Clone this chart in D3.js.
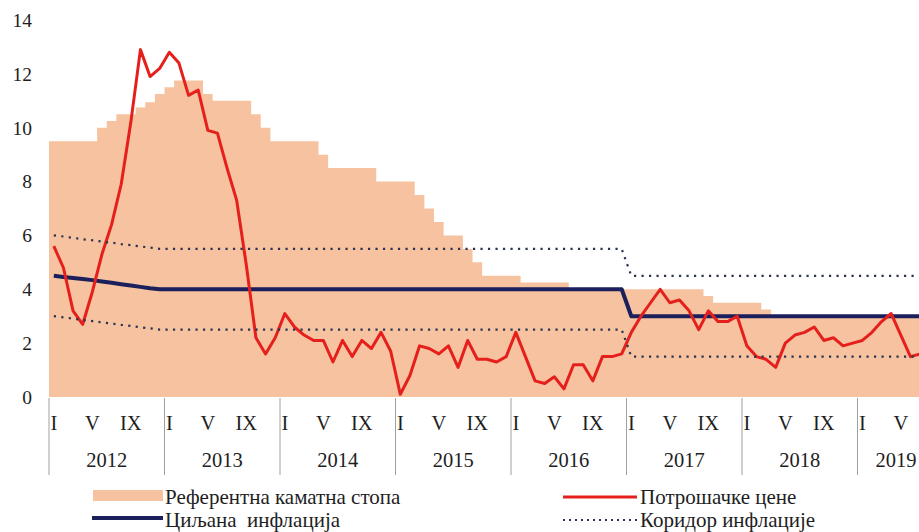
<!DOCTYPE html>
<html>
<head>
    <meta charset="UTF-8">
    <title>Инфлација и референтна каматна стопа</title>
    <script src="https://d3js.org/d3.v7.min.js"></script>
    <style type="text/css">
        body { margin: 0; background: #fff; }
        text { font-family: "Liberation Serif", "DejaVu Serif", serif; fill: #1e1e1e; }
    </style>
</head>
<body>
    <svg id="chart"></svg>

    <script>
        const width = 919;
        const height = 532;

        // months from Jan 2012, one value per month
        const years = ["2012", "2013", "2014", "2015", "2016", "2017", "2018", "2019"];
        const monthsInYear = [12, 12, 12, 12, 12, 12, 12, 8];
        const monthLabels = [{ m: 0, label: "I" }, { m: 4, label: "V" }, { m: 8, label: "IX" }];
        const yTicks = [0, 2, 4, 6, 8, 10, 12, 14];

        const keyRate = [
            9.5, 9.5, 9.5, 9.5, 9.5, 10.0, 10.25, 10.5, 10.5, 10.75, 10.95, 11.25,
            11.5, 11.75, 11.75, 11.75, 11.25, 11.0, 11.0, 11.0, 11.0, 10.5, 10.0, 9.5,
            9.5, 9.5, 9.5, 9.5, 9.0, 8.5, 8.5, 8.5, 8.5, 8.5, 8.0, 8.0,
            8.0, 8.0, 7.5, 7.0, 6.5, 6.0, 6.0, 5.5, 5.0, 4.5, 4.5, 4.5,
            4.5, 4.25, 4.25, 4.25, 4.25, 4.25, 4.0, 4.0, 4.0, 4.0, 4.0, 4.0,
            4.0, 4.0, 4.0, 4.0, 4.0, 4.0, 4.0, 4.0, 3.75, 3.5, 3.5, 3.5,
            3.5, 3.5, 3.25, 3.0, 3.0, 3.0, 3.0, 3.0, 3.0, 3.0, 3.0, 3.0,
            3.0, 3.0, 3.0, 3.0, 3.0, 3.0, 3.0
        ];
        const cpi = [
            5.6, 4.8, 3.2, 2.7, 3.9, 5.3, 6.4, 7.9, 10.2, 12.9, 11.9, 12.2,
            12.8, 12.4, 11.2, 11.4, 9.9, 9.8, 8.5, 7.3, 4.9, 2.2, 1.6, 2.2,
            3.1, 2.6, 2.3, 2.1, 2.1, 1.3, 2.1, 1.5, 2.1, 1.8, 2.4, 1.7,
            0.1, 0.8, 1.9, 1.8, 1.6, 1.9, 1.1, 2.1, 1.4, 1.4, 1.3, 1.5,
            2.4, 1.5, 0.6, 0.5, 0.75, 0.3, 1.2, 1.2, 0.6, 1.5, 1.5, 1.6,
            2.4, 3.0, 3.5, 4.0, 3.5, 3.6, 3.2, 2.5, 3.2, 2.8, 2.8, 3.0,
            1.9, 1.5, 1.4, 1.1, 2.0, 2.3, 2.4, 2.6, 2.1, 2.2, 1.9, 2.0,
            2.1, 2.4, 2.8, 3.1, 2.3, 1.5, 1.6
        ];
        const target = [
            4.5, 4.46, 4.42, 4.38, 4.34, 4.29, 4.24, 4.19, 4.14, 4.09, 4.04, 4.0,
            4.0, 4.0, 4.0, 4.0, 4.0, 4.0, 4.0, 4.0, 4.0, 4.0, 4.0, 4.0,
            4.0, 4.0, 4.0, 4.0, 4.0, 4.0, 4.0, 4.0, 4.0, 4.0, 4.0, 4.0,
            4.0, 4.0, 4.0, 4.0, 4.0, 4.0, 4.0, 4.0, 4.0, 4.0, 4.0, 4.0,
            4.0, 4.0, 4.0, 4.0, 4.0, 4.0, 4.0, 4.0, 4.0, 4.0, 4.0, 4.0,
            3.0, 3.0, 3.0, 3.0, 3.0, 3.0, 3.0, 3.0, 3.0, 3.0, 3.0, 3.0,
            3.0, 3.0, 3.0, 3.0, 3.0, 3.0, 3.0, 3.0, 3.0, 3.0, 3.0, 3.0,
            3.0, 3.0, 3.0, 3.0, 3.0, 3.0, 3.0
        ];
        const corridorHigh = [
            6.0, 5.96, 5.91, 5.86, 5.82, 5.77, 5.73, 5.68, 5.64, 5.59, 5.55, 5.5,
            5.5, 5.5, 5.5, 5.5, 5.5, 5.5, 5.5, 5.5, 5.5, 5.5, 5.5, 5.5,
            5.5, 5.5, 5.5, 5.5, 5.5, 5.5, 5.5, 5.5, 5.5, 5.5, 5.5, 5.5,
            5.5, 5.5, 5.5, 5.5, 5.5, 5.5, 5.5, 5.5, 5.5, 5.5, 5.5, 5.5,
            5.5, 5.5, 5.5, 5.5, 5.5, 5.5, 5.5, 5.5, 5.5, 5.5, 5.5, 5.5,
            4.5, 4.5, 4.5, 4.5, 4.5, 4.5, 4.5, 4.5, 4.5, 4.5, 4.5, 4.5,
            4.5, 4.5, 4.5, 4.5, 4.5, 4.5, 4.5, 4.5, 4.5, 4.5, 4.5, 4.5,
            4.5, 4.5, 4.5, 4.5, 4.5, 4.5, 4.5
        ];
        const corridorLow = [
            3.0, 2.96, 2.91, 2.86, 2.82, 2.77, 2.73, 2.68, 2.64, 2.59, 2.55, 2.5,
            2.5, 2.5, 2.5, 2.5, 2.5, 2.5, 2.5, 2.5, 2.5, 2.5, 2.5, 2.5,
            2.5, 2.5, 2.5, 2.5, 2.5, 2.5, 2.5, 2.5, 2.5, 2.5, 2.5, 2.5,
            2.5, 2.5, 2.5, 2.5, 2.5, 2.5, 2.5, 2.5, 2.5, 2.5, 2.5, 2.5,
            2.5, 2.5, 2.5, 2.5, 2.5, 2.5, 2.5, 2.5, 2.5, 2.5, 2.5, 2.5,
            1.5, 1.5, 1.5, 1.5, 1.5, 1.5, 1.5, 1.5, 1.5, 1.5, 1.5, 1.5,
            1.5, 1.5, 1.5, 1.5, 1.5, 1.5, 1.5, 1.5, 1.5, 1.5, 1.5, 1.5,
            1.5, 1.5, 1.5, 1.5, 1.5, 1.5, 1.5
        ];

        const colors = { rate: "#f6c29f", cpi: "#e5201c", target: "#1b1f5c", corridor: "#2a3352" };

        const totalMonths = d3.sum(monthsInYear);
        const plotLeft = 49;
        const monthWidth = 9.625;

        const x = d3.scaleLinear().domain([0, totalMonths]).range([plotLeft, plotLeft + totalMonths * monthWidth]);
        const y = d3.scaleLinear().domain([0, 14]).range([397, 20]);

        const svg = d3.select("#chart")
            .attr("width", width)
            .attr("height", height);

        svg.append("rect").attr("width", width).attr("height", height).attr("fill", "#fff");

        // key policy rate as step area
        const stepData = keyRate.map((v, i) => [i, v]).concat([[keyRate.length, keyRate[keyRate.length - 1]]]);
        svg.append("path")
            .datum(stepData)
            .attr("fill", colors.rate)
            .attr("d", d3.area().curve(d3.curveStepAfter)
                .x(d => x(d[0]))
                .y0(y(0))
                .y1(d => y(d[1])));

        const monthLine = d3.line().x((d, i) => x(i + 0.5)).y(d => y(d));

        svg.append("path")
            .datum(target)
            .attr("fill", "none")
            .attr("stroke", colors.target)
            .attr("stroke-width", 4)
            .attr("stroke-linejoin", "round")
            .attr("d", monthLine);

        svg.append("path")
            .datum(cpi)
            .attr("fill", "none")
            .attr("stroke", colors.cpi)
            .attr("stroke-width", 3)
            .attr("stroke-linejoin", "round")
            .attr("d", monthLine);

        [corridorHigh, corridorLow].forEach(series => {
            svg.append("path")
                .datum(series)
                .attr("fill", "none")
                .attr("stroke", colors.corridor)
                .attr("stroke-width", 2.2)
                .attr("stroke-dasharray", "2.2 5.3")
                .attr("d", monthLine);
        });

        // y axis labels only
        svg.append("g").selectAll("text")
            .data(yTicks)
            .join("text")
            .attr("x", 32)
            .attr("y", d => y(d))
            .attr("dy", "0.35em")
            .attr("text-anchor", "end")
            .style("font-size", "19.5px")
            .text(d => d);

        // year bands with separators
        let start = 0;
        const yearBands = years.map((yr, i) => {
            const band = { year: yr, start: start, end: start + monthsInYear[i] };
            start += monthsInYear[i];
            return band;
        });

        const xAxis = svg.append("g");
        xAxis.selectAll("line")
            .data(yearBands)
            .join("line")
            .attr("x1", d => x(d.start))
            .attr("x2", d => x(d.start))
            .attr("y1", 398)
            .attr("y2", 475)
            .attr("stroke", "#a0a0a0")
            .attr("stroke-width", 1);

        xAxis.selectAll(".year")
            .data(yearBands)
            .join("text")
            .attr("class", "year")
            .attr("x", d => (x(d.start) + x(d.end)) / 2)
            .attr("y", 467)
            .attr("text-anchor", "middle")
            .style("font-size", "20.5px")
            .text(d => d.year);

        const monthTicks = [];
        yearBands.forEach(b => monthLabels.forEach(m => {
            if (m.m < b.end - b.start) monthTicks.push({ pos: b.start + m.m, label: m.label });
        }));
        xAxis.selectAll(".month")
            .data(monthTicks)
            .join("text")
            .attr("class", "month")
            .attr("x", d => x(d.pos + 0.5))
            .attr("y", 430)
            .attr("text-anchor", "middle")
            .style("font-size", "20.5px")
            .text(d => d.label);

        // legend
        const legend = svg.append("g");
        legend.append("rect").attr("x", 93).attr("y", 490).attr("width", 70).attr("height", 11).attr("fill", colors.rate);
        legend.append("line").attr("x1", 92).attr("x2", 163).attr("y1", 518).attr("y2", 518)
            .attr("stroke", colors.target).attr("stroke-width", 4);
        legend.append("line").attr("x1", 563).attr("x2", 637).attr("y1", 497).attr("y2", 497)
            .attr("stroke", colors.cpi).attr("stroke-width", 3);
        legend.append("line").attr("x1", 563).attr("x2", 637).attr("y1", 520).attr("y2", 520)
            .attr("stroke", colors.corridor).attr("stroke-width", 2).attr("stroke-dasharray", "2 4");

        const legendItems = [
            { x: 165, y: 504, label: "Референтна каматна стопа" },
            { x: 165, y: 527, label: "Циљана  инфлација" },
            { x: 640, y: 504, label: "Потрошачке цене" },
            { x: 640, y: 527, label: "Коридор инфлације" }
        ];
        legend.selectAll("text")
            .data(legendItems)
            .join("text")
            .attr("x", d => d.x)
            .attr("y", d => d.y)
            .style("font-size", "21px")
            .style("white-space", "pre")
            .text(d => d.label);
    </script>
</body>
</html>
